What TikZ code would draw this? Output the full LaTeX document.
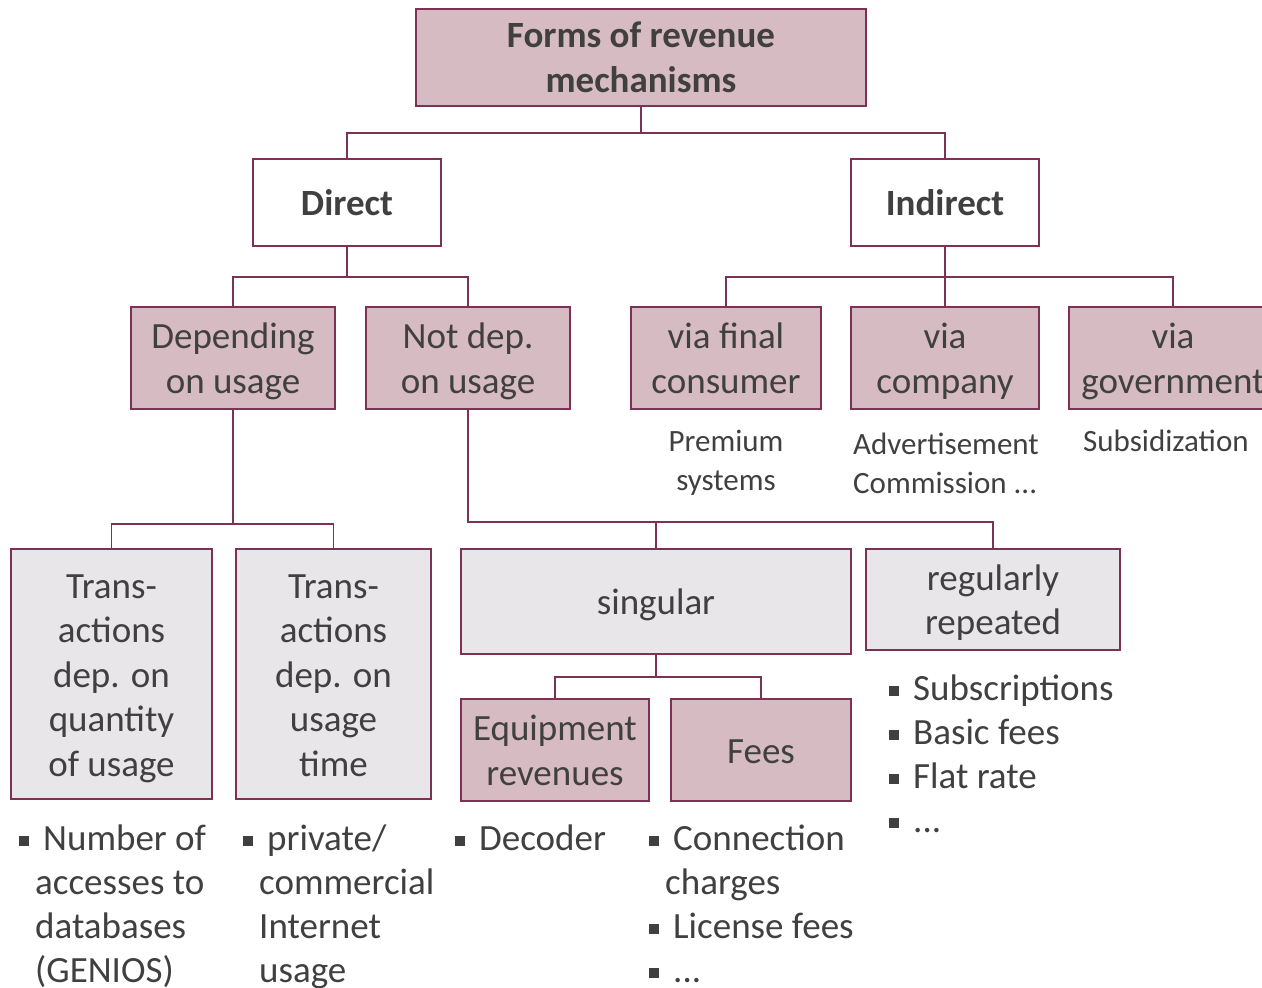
\documentclass[tikz,border=0pt]{standalone}
\usepackage{fontspec}
\setmainfont{Carlito}
\definecolor{rim}{RGB}{125,50,85}
\definecolor{rose}{RGB}{214,187,195}
\definecolor{pale}{RGB}{232,230,232}
\definecolor{ink}{RGB}{64,64,64}
\newcommand{\sqb}{\strut\rule[4pt]{10pt}{10pt}\hspace{14pt}}
\newcommand{\cont}{\hspace*{16pt}}
\newcommand{\tp}{\rule{0pt}{34pt}}
\newcommand{\bt}{\rule[-8pt]{0pt}{8pt}}
\tikzset{
  box/.style={draw=rim, line width=1.6pt, inner sep=0pt, align=center, text=ink,
    font=\fontsize{37}{44.5}\selectfont},
  rosebox/.style={box, fill=rose},
  palebox/.style={box, fill=pale},
  headbox/.style={box, font=\fontsize{37}{44.5}\selectfont\bfseries},
  link/.style={draw=rim, line width=1.6pt},
  note/.style={inner sep=0pt, text=ink, font=\fontsize{31}{39}\selectfont},
  list/.style={anchor=north west, inner sep=0pt, align=left, text=ink,
    font=\fontsize{37}{44}\selectfont}
}

\begin{document}
\begin{tikzpicture}[x=1pt, y=-1pt]
  \clip (0,0) rectangle (1262,988);

  \node (top) at (641, 57.5) [headbox, fill=rose, minimum width=450pt, minimum height=97pt]
    {Forms of revenue\\mechanisms};

  \node (direct)   at ( 347, 202.5) [headbox, fill=white, minimum width=188pt, minimum height=87pt] {Direct};
  \node (indirect) at ( 945, 202.5) [headbox, fill=white, minimum width=188pt, minimum height=87pt] {Indirect};

  \node (dep)     at ( 233, 358) [rosebox, minimum width=204pt, minimum height=102pt] {\tp Depending\\on usage\bt};
  \node (notdep)  at ( 468, 358) [rosebox, minimum width=204pt, minimum height=102pt] {\tp Not dep.\\on usage\bt};
  \node (final)   at ( 726, 358) [rosebox, minimum width=190pt, minimum height=102pt] {\tp via final\\consumer\bt};
  \node (company) at ( 945, 358) [rosebox, minimum width=188pt, minimum height=102pt] {\tp via\\company\bt};
  \node (gov)     at (1173, 358) [rosebox, minimum width=208pt, minimum height=102pt] {\tp via\\government\bt};

  \node (premium) at ( 726, 463) [note, align=center] {Premium\\systems};
  \node (advert)  at ( 853, 463) [note, align=left, anchor=west] {Advertisement\\Commission ...};
  \node (subsid)  at (1083, 441) [note, anchor=west] {Subsidization};

  \node (qty)  at (111.5, 674) [palebox, minimum width=201pt, minimum height=250pt]
    {\tp Trans-\\actions\\dep. on\\quantity\\of usage\bt};
  \node (time) at (333.5, 674) [palebox, minimum width=195pt, minimum height=250pt]
    {\tp Trans-\\actions\\dep. on\\usage\\time\bt};

  \node (singular) at (656, 601.5) [palebox, minimum width=390pt, minimum height=105pt] {\tp singular\bt};
  \node (regular)  at (993, 599.5) [palebox, minimum width=254pt, minimum height=101pt] {\tp regularly\\repeated\bt};

  \node (equip) at (555, 750) [rosebox, minimum width=188pt, minimum height=102pt] {\tp Equipment\\revenues\bt};
  \node (fees)  at (761, 750) [rosebox, minimum width=180pt, minimum height=102pt] {\tp Fees\bt};

  \node (qtylist)  at ( 19, 819) [list] {\sqb Number of\\\cont accesses to\\\cont databases\\\cont (GENIOS)};
  \node (timelist) at (243, 819) [list] {\sqb private/\\\cont commercial\\\cont Internet\\\cont usage};
  \node (declist)  at (455, 819) [list] {\sqb Decoder};
  \node (feelist)  at (649, 819) [list] {\sqb Connection\\\cont charges\\\sqb License fees\\\sqb ...};
  \node (replist)  at (889, 669) [list] {\sqb Subscriptions\\\sqb Basic fees\\\sqb Flat rate\\\sqb ...};

  \draw[link] (top.south) -- ++(0,26) -| (direct.north);
  \draw[link] (top.south) -- ++(0,26) -| (indirect.north);
  \draw[link] (direct.south) -- ++(0,30) -| (dep.north);
  \draw[link] (direct.south) -- ++(0,30) -| (notdep.north);
  \draw[link] (indirect.south) -- ++(0,30) -| (final.north);
  \draw[link] (indirect.south) -- (company.north);
  \draw[link] (indirect.south) -- ++(0,30) -| (gov.north);
  \draw[link] (dep.south) -- ++(0,114) -| (qty.north);
  \draw[link] (dep.south) -- ++(0,114) -| (time.north);
  \draw[link, line width=2.6pt] (notdep.south) -- ++(0,112) -| (singular.north);
  \draw[link, line width=2.6pt] (notdep.south) -- ++(0,112) -| (regular.north);
  \draw[link] (singular.south) -- ++(0,22) -| (equip.north);
  \draw[link] (singular.south) -- ++(0,22) -| (fees.north);
\end{tikzpicture}
\end{document}
